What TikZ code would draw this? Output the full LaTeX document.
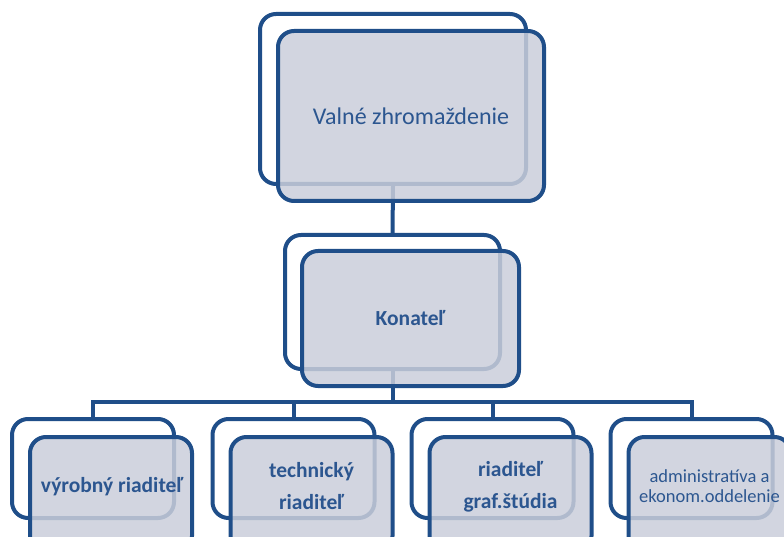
\documentclass[tikz,border=0pt]{standalone}
\usepackage{fontspec}
\setmainfont{Carlito}
\definecolor{lineblue}{HTML}{1F4E89}
\definecolor{boxfill}{HTML}{CACEDA}
\definecolor{txtblue}{HTML}{2C5690}
\tikzset{
  backbox/.style={draw=lineblue, line width=4pt, rounded corners=16pt, inner sep=0pt},
  frontbox/.style={draw=lineblue, line width=4pt, rounded corners=16pt, fill=boxfill,
    fill opacity=0.85, draw opacity=1, text opacity=1, inner sep=0pt, text=txtblue, align=center},
  conn/.style={draw=lineblue, line width=4pt},
  bigtxt/.style={font=\fontsize{24}{29}\selectfont},
  midtxt/.style={font=\fontsize{21.5}{32}\selectfont\bfseries},
  smalltxt/.style={font=\fontsize{18.5}{20}\selectfont},
}
\begin{document}
\begin{tikzpicture}[x=1pt,y=-1pt]
\useasboundingbox (0,0) rectangle (784,537);
\clip (0,0) rectangle (784,537);
% back boxes
\node[backbox, minimum width=266pt, minimum height=170pt] (vzb) at (393,99) {};
\node[backbox, minimum width=215pt, minimum height=134pt] (kob) at (392.5,302) {};
\node[backbox, minimum width=162pt, minimum height=99pt] (c1b) at (93,468.5) {};
\node[backbox, minimum width=162pt, minimum height=99pt] (c2b) at (293.5,468.5) {};
\node[backbox, minimum width=162pt, minimum height=99pt] (c3b) at (492.5,468.5) {};
\node[backbox, minimum width=162pt, minimum height=99pt] (c4b) at (691.5,468.5) {};
% connectors
\coordinate (bus) at (392.5,402);
\draw[conn] (vzb.south) -- (kob.north);
\draw[conn] (kob.south) -- (bus);
\draw[conn] (bus) -| (c1b.north);
\draw[conn] (bus) -| (c2b.north);
\draw[conn] (bus) -| (c3b.north);
\draw[conn] (bus) -| (c4b.north);
% front boxes
\node[frontbox, bigtxt, minimum width=266pt, minimum height=170pt] (vzf) at (411,116) {Valné zhromaždenie};
\node[frontbox, midtxt, minimum width=217pt, minimum height=135pt] (kof) at (410.5,318.5) {Konateľ};
\node[frontbox, minimum width=162pt, minimum height=115pt] (c1f) at (111,494.5) {};
\node[frontbox, minimum width=162pt, minimum height=115pt] (c2f) at (311.5,494.5) {};
\node[frontbox, minimum width=162pt, minimum height=115pt] (c3f) at (510.5,494.5) {};
\node[frontbox, minimum width=162pt, minimum height=115pt] (c4f) at (709.5,494.5) {};
\node[midtxt, text=txtblue, align=center] (t1) at (112,487) {výrobný riaditeľ};
\node[midtxt, text=txtblue, align=center] (t2) at (311.5,486.5) {technický\\riaditeľ};
\node[midtxt, text=txtblue, align=center] (t3) at (510.5,486.5) {riaditeľ\\graf.štúdia};
\node[smalltxt, text=txtblue, align=center] (t4) at (709.5,486.5) {administratíva a\\ekonom.oddelenie};
\end{tikzpicture}
\end{document}
